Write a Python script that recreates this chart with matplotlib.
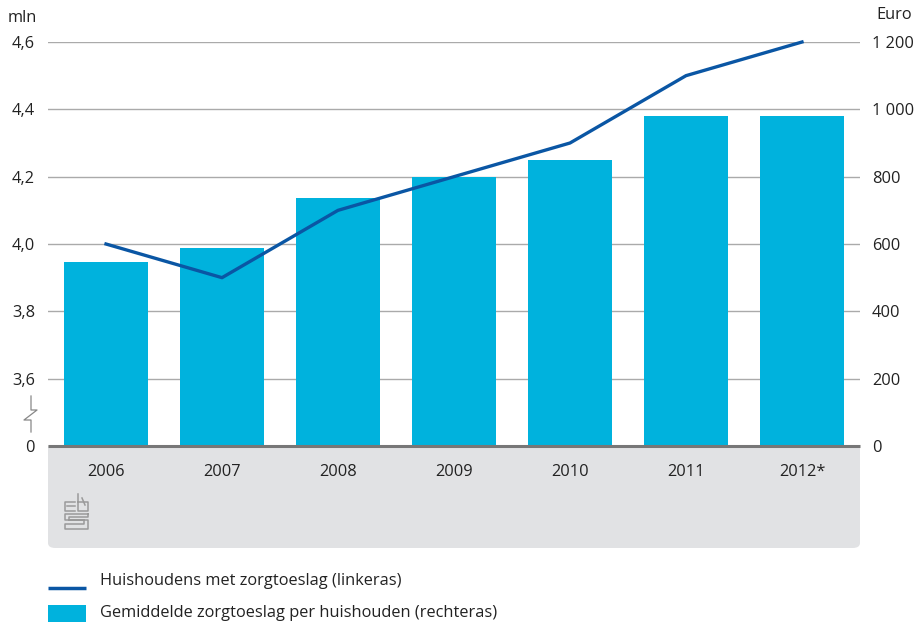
import matplotlib.pyplot as plt
from matplotlib.patches import FancyBboxPatch, Rectangle
from matplotlib.lines import Line2D

plt.rcParams['font.family'] = ['Open Sans', 'DejaVu Sans']

years = ['2006', '2007', '2008', '2009', '2010', '2011', '2012*']
toeslag = [548, 588, 738, 800, 850, 980, 980]          # euro, right axis
huishoudens = [4.0, 3.9, 4.1, 4.2, 4.3, 4.5, 4.6]      # mln, left axis
left_ticks = [3.4, 3.6, 3.8, 4.0, 4.2, 4.4, 4.6]
left_labels = ['0', '3,6', '3,8', '4,0', '4,2', '4,4', '4,6']
right_ticks = [0, 200, 400, 600, 800, 1000, 1200]
right_labels = ['0', '200', '400', '600', '800', '1 000', '1 200']

bar_color = '#00b2dd'
line_color = '#0a56a4'
text_color = '#222222'
fs = 11.8

W, H = 923, 628
fig = plt.figure(figsize=(W / 100, H / 100), dpi=100)

def fx(px):
    return px / W

def fy(py):
    return 1 - py / H

ax = fig.add_axes([fx(48), fy(446), fx(860) - fx(48), fy(42) - fy(446)])
ax2 = ax.twinx()

ax.set_xlim(-0.5, len(years) - 0.5)
ax.set_ylim(0, 1200)
x = range(len(years))
ax.bar(x, toeslag, width=0.724, color=bar_color, zorder=2)
ax.set_yticks(right_ticks)
ax.grid(axis='y', color='#aaaaaa', linewidth=1.0, zorder=0)
ax.set_xticks([])

ax2.set_ylim(3.4, 4.6)
ax2.plot(x, huishoudens, color=line_color, linewidth=2.4, zorder=3, clip_on=False)
ax2.set_yticks(left_ticks)

ax.yaxis.tick_right()
ax.set_yticklabels(right_labels, fontsize=fs, color=text_color)
ax.tick_params(axis='y', which='both', left=False, right=False, labelleft=False,
               labelright=True, length=0, pad=8.6)
ax2.yaxis.tick_left()
ax2.set_yticklabels(left_labels, fontsize=fs, color=text_color)
ax2.tick_params(axis='y', which='both', left=False, right=False, labelleft=True,
                labelright=False, length=0, pad=9.4)
for a in (ax, ax2):
    for s in a.spines.values():
        s.set_visible(False)
    a.patch.set_visible(False)
ax.set_zorder(1)
ax2.set_zorder(2)

# unit labels
fig.text(fx(8), fy(18), 'mln', fontsize=fs, color=text_color, va='center', ha='left')
fig.text(fx(876), fy(15), 'Euro', fontsize=fs, color=text_color, va='center', ha='left')

# axis break symbol
fig.add_artist(Line2D([fx(31), fx(31), fx(37), fx(24), fx(31), fx(31)],
                      [fy(396), fy(410), fy(410), fy(420), fy(420), fy(432)],
                      color='#888888', linewidth=0.9))

# grey panel below the axis
panel = FancyBboxPatch((fx(48), fy(548)), fx(860) - fx(48), fy(446) - fy(548),
                       boxstyle='round,pad=0,rounding_size=0.008',
                       transform=fig.transFigure, facecolor='#e1e2e4',
                       edgecolor='none', zorder=0)
fig.add_artist(panel)
fig.add_artist(Rectangle((fx(48), fy(540)), fx(860) - fx(48), fy(446) - fy(540),
                         transform=fig.transFigure, facecolor='#e1e2e4',
                         edgecolor='none', zorder=0))
fig.add_artist(Line2D([fx(48), fx(860)], [fy(446), fy(446)], color='#777777',
                      linewidth=2.2, solid_capstyle='butt', zorder=3))

for i, yr in enumerate(years):
    xf = fx(48) + (i + 0.5) / len(years) * (fx(860) - fx(48))
    fig.text(xf, fy(472), yr, fontsize=fs, color=text_color, ha='center', va='center')

# simple cbs logo
logo = '#9a9a9a'
lw = 1.1
segs = [
    ([75, 65, 65, 75], [502, 502, 511, 511]),
    ([67, 75], [506, 506]),
    ([78, 78, 88, 88, 78], [494, 511, 511, 502, 502]),
    ([82, 82, 85, 85], [498, 498, 505, 505]),
    ([88, 65, 65, 84, 84, 65, 65, 88, 88, 69, 69, 88, 88], [514, 514, 520, 520, 524, 524, 529, 529, 520, 520, 517, 517, 514]),
]
for xs, ys in segs:
    fig.add_artist(Line2D([fx(v) for v in xs], [fy(v) for v in ys],
                          color=logo, linewidth=lw))

# legend
fig.add_artist(Line2D([fx(48), fx(86)], [fy(588), fy(588)], color=line_color,
                      linewidth=2.5, solid_capstyle='butt'))
fig.text(fx(100), fy(581), 'Huishoudens met zorgtoeslag (linkeras)', fontsize=fs,
         color=text_color, va='center', ha='left')
fig.add_artist(Rectangle((fx(48), fy(622)), fx(86) - fx(48), fy(605) - fy(622),
                         transform=fig.transFigure, facecolor=bar_color, edgecolor='none'))
fig.text(fx(100), fy(613), 'Gemiddelde zorgtoeslag per huishouden (rechteras)', fontsize=fs,
         color=text_color, va='center', ha='left')

fig.savefig('out.png', dpi=100)
